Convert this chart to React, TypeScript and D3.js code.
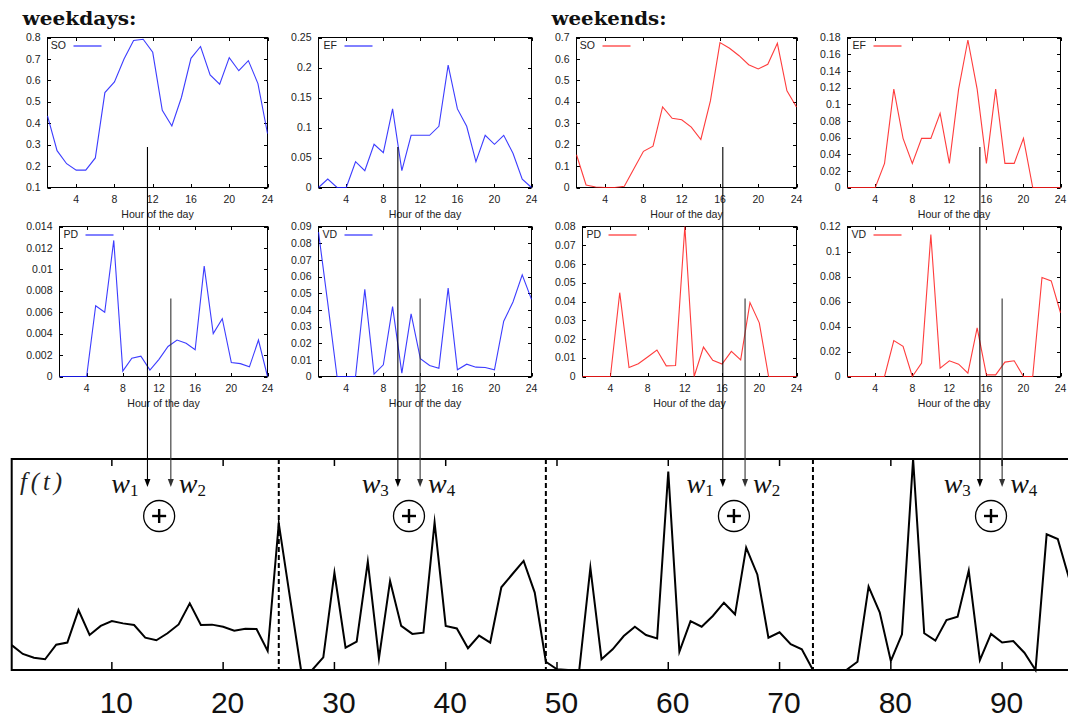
import React from 'react';
import * as d3 from 'd3';

// Hourly profiles (hour 1..24)
const hours = d3.range(1, 25);
const xTickHours = [4, 8, 12, 16, 20, 24];

const soWeekdays = [0.434, 0.272, 0.211, 0.181, 0.181, 0.238, 0.543, 0.593, 0.700, 0.786, 0.792, 0.731, 0.460, 0.387, 0.520, 0.703, 0.758, 0.625, 0.582, 0.706, 0.645, 0.692, 0.585, 0.352];
const efWeekdays = [0, 0.014, 0, 0, 0.043, 0.028, 0.072, 0.058, 0.131, 0.028, 0.087, 0.087, 0.087, 0.102, 0.204, 0.131, 0.102, 0.043, 0.087, 0.072, 0.087, 0.057, 0.014, 0];
const pdWeekdays = [0, 0, 0, 0, 0.0066, 0.0060, 0.0127, 0.0005, 0.0017, 0.0019, 0.0006, 0.0016, 0.0028, 0.0034, 0.0031, 0.0025, 0.0103, 0.0040, 0.0054, 0.0013, 0.0012, 0.0009, 0.0034, 0];
const vdWeekdays = [0.0866, 0.044, 0, 0, 0, 0.0523, 0.0014, 0.007, 0.0419, 0.002, 0.0376, 0.0107, 0.0066, 0.005, 0.053, 0.004, 0.0074, 0.0056, 0.0054, 0.004, 0.0332, 0.0447, 0.061, 0.0463];

const soWeekends = [0.153, 0.012, 0.002, 0, 0, 0.006, 0.088, 0.169, 0.193, 0.376, 0.323, 0.316, 0.282, 0.224, 0.404, 0.676, 0.650, 0.615, 0.573, 0.553, 0.575, 0.673, 0.451, 0.376];
const efWeekends = [0, 0, 0, 0, 0.029, 0.118, 0.059, 0.029, 0.059, 0.059, 0.089, 0.029, 0.118, 0.177, 0.118, 0.029, 0.118, 0.029, 0.029, 0.059, 0, 0, 0, 0];
const pdWeekends = [0, 0, 0, 0, 0.0447, 0.0048, 0.0068, 0.0104, 0.0141, 0.0057, 0.0059, 0.08, 0, 0.0157, 0.0086, 0.0066, 0.0134, 0.0089, 0.0394, 0.0286, 0, 0, 0, 0];
const vdWeekends = [0, 0, 0, 0, 0, 0.0287, 0.0242, 0, 0.0107, 0.1135, 0.0067, 0.0126, 0.0099, 0.0027, 0.0389, 0.0013, 0.0013, 0.0115, 0.0126, 0, 0, 0.0792, 0.0765, 0.051];

// Y tick values for each panel
const soWeekdayTicks = [0.1, 0.2, 0.3, 0.4, 0.5, 0.6, 0.7, 0.8];
const efWeekdayTicks = [0, 0.05, 0.1, 0.15, 0.2, 0.25];
const pdWeekdayTicks = [0, 0.002, 0.004, 0.006, 0.008, 0.01, 0.012, 0.014];
const vdWeekdayTicks = [0, 0.01, 0.02, 0.03, 0.04, 0.05, 0.06, 0.07, 0.08, 0.09];
const soWeekendTicks = [0, 0.1, 0.2, 0.3, 0.4, 0.5, 0.6, 0.7];
const efWeekendTicks = [0, 0.02, 0.04, 0.06, 0.08, 0.1, 0.12, 0.14, 0.16, 0.18];
const pdWeekendTicks = [0, 0.01, 0.02, 0.03, 0.04, 0.05, 0.06, 0.07, 0.08];
const vdWeekendTicks = [0, 0.02, 0.04, 0.06, 0.08, 0.1, 0.12];

// Combined weekly signal f(t), t = 1..96 (normalised)
const fWeekdaySoPd = [0.118, 0.076, 0.058, 0.051, 0.120, 0.130, 0.284, 0.166, 0.209, 0.232, 0.221, 0.213, 0.153, 0.141, 0.174, 0.216, 0.316, 0.213, 0.215, 0.205, 0.186, 0.196, 0.194, 0.090];
const fWeekdayEfVd = [0.695, 0.345, 0, 0, 0.060, 0.461, 0.106, 0.134, 0.513, 0.055, 0.422, 0.209, 0.171, 0.177, 0.700, 0.209, 0.197, 0.103, 0.163, 0.130, 0.392, 0.455, 0.517, 0.367];
const fWeekendSoPd = [0.039, 0.003, 0, 0, 0.485, 0.051, 0.098, 0.161, 0.205, 0.166, 0.150, 0.940, 0.087, 0.232, 0.205, 0.256, 0.319, 0.264, 0.580, 0.453, 0.153, 0.179, 0.122, 0.098];
const fWeekendEfVd = [0, 0, 0, 0, 0.039, 0.395, 0.273, 0.043, 0.169, 1.0, 0.174, 0.139, 0.237, 0.253, 0.471, 0.047, 0.171, 0.130, 0.137, 0.082, 0, 0.643, 0.621, 0.437];
const fSeries = [...fWeekdaySoPd, ...fWeekdayEfVd, ...fWeekendSoPd, ...fWeekendEfVd];
const tValues = d3.range(1, 97);
const tTicks = [10, 20, 30, 40, 50, 60, 70, 80, 90];
const segmentBreaks = [25, 49, 73];

// Weight arrows: pairs of arrows (in t units of the combined plot)
const weightPairs = [
  { a: '1', b: '2', ta: 13.2, tb: 15.3 },
  { a: '3', b: '4', ta: 35.7, tb: 37.7 },
  { a: '1', b: '2', ta: 64.9, tb: 66.9 },
  { a: '3', b: '4', ta: 88.0, tb: 90.0 },
];

const BLUE = '#1a1aff';
const RED = '#ff1a1a';
const SANS = '"Liberation Sans", Arial, sans-serif';
const SERIF = '"Liberation Serif", "Times New Roman", serif';

const topRow = { top: 37.5, bottom: 187.5 };
const bottomRow = { top: 226.5, bottom: 376.5 };

type PanelCfg = {
  name: string;
  data: number[];
  ticks: number[];
  color: string;
  left: number;
  right: number;
  top: number;
  bottom: number;
};

const panels: PanelCfg[] = [
  { name: 'SO', data: soWeekdays, ticks: soWeekdayTicks, color: BLUE, left: 47.5, right: 267.5, ...topRow },
  { name: 'EF', data: efWeekdays, ticks: efWeekdayTicks, color: BLUE, left: 318.5, right: 531.5, ...topRow },
  { name: 'SO', data: soWeekends, ticks: soWeekendTicks, color: RED, left: 576.5, right: 796.5, ...topRow },
  { name: 'EF', data: efWeekends, ticks: efWeekendTicks, color: RED, left: 847.5, right: 1060.5, ...topRow },
  { name: 'PD', data: pdWeekdays, ticks: pdWeekdayTicks, color: BLUE, left: 59.5, right: 267.5, ...bottomRow },
  { name: 'VD', data: vdWeekdays, ticks: vdWeekdayTicks, color: BLUE, left: 318.5, right: 531.5, ...bottomRow },
  { name: 'PD', data: pdWeekends, ticks: pdWeekendTicks, color: RED, left: 582.5, right: 796.5, ...bottomRow },
  { name: 'VD', data: vdWeekends, ticks: vdWeekendTicks, color: RED, left: 847.5, right: 1060.5, ...bottomRow },
];

function Panel({ cfg }: { cfg: PanelCfg }) {
  const { left, right, top, bottom, ticks } = cfg;
  const x = d3.scaleLinear().domain([1, 24]).range([left, right]);
  const y = d3.scaleLinear().domain([ticks[0], ticks[ticks.length - 1]]).range([bottom, top]);
  const line = d3
    .line<number>()
    .x((_, i) => x(hours[i]))
    .y((d) => y(d));
  const tl = 3.5;
  return (
    <g>
      <rect x={left} y={top} width={right - left} height={bottom - top} fill="none" stroke="#000" strokeWidth={1} />
      {ticks.map((t) => (
        <g key={'y' + t}>
          <line x1={left} x2={left + tl} y1={Math.round(y(t)) + 0.5} y2={Math.round(y(t)) + 0.5} stroke="#000" />
          <line x1={right} x2={right - tl} y1={Math.round(y(t)) + 0.5} y2={Math.round(y(t)) + 0.5} stroke="#000" />
          <text x={left - 7} y={y(t) + 3.7} textAnchor="end" fontSize={10.5} fontFamily={SANS} fill="#222">
            {String(t)}
          </text>
        </g>
      ))}
      {xTickHours.map((h) => (
        <g key={'x' + h}>
          <line x1={Math.round(x(h)) + 0.5} x2={Math.round(x(h)) + 0.5} y1={bottom} y2={bottom - tl} stroke="#000" />
          <line x1={Math.round(x(h)) + 0.5} x2={Math.round(x(h)) + 0.5} y1={top} y2={top + tl} stroke="#000" />
          <text x={x(h)} y={bottom + 15.5} textAnchor="middle" fontSize={10.5} fontFamily={SANS} fill="#222">
            {h}
          </text>
        </g>
      ))}
      <path d={line(cfg.data) || ''} fill="none" stroke={cfg.color} strokeWidth={1.1} strokeOpacity={0.85} />
      <text x={(left + right) / 2} y={bottom + 30} textAnchor="middle" fontSize={10.6} fontFamily={SANS} fill="#222">
        Hour of the day
      </text>
      <text x={left + 18.5} y={top + 11.5} textAnchor="end" fontSize={10.5} fontFamily={SANS} fill="#222">
        {cfg.name}
      </text>
      <line x1={left + 26} x2={left + 54} y1={top + 8.5} y2={top + 8.5} stroke={cfg.color} strokeWidth={1.1} />
    </g>
  );
}

export default function App() {
  const W = 1068;
  const H = 719;

  // Combined signal plot
  const fx = d3.scaleLinear().domain([1, 96]).range([11.7, 1068.9]);
  const fy = d3.scaleLinear().domain([0, 1]).range([670, 459]);
  const fLine = d3
    .line<number>()
    .x((_, i) => fx(tValues[i]))
    .y((d) => fy(d));

  const arrowTip = 487;
  const topStart = topRow.top + 0.73 * (topRow.bottom - topRow.top);
  const bottomStart = bottomRow.top + 0.48 * (bottomRow.bottom - bottomRow.top);

  const arrow = (xPos: number, y0: number, key: string, color: string) => (
    <g key={key}>
      <line x1={xPos} x2={xPos} y1={y0} y2={arrowTip - 6} stroke={color} strokeWidth={1.1} />
      <path d={`M${xPos - 3},${arrowTip - 8} L${xPos + 3},${arrowTip - 8} L${xPos},${arrowTip} Z`} fill={color} />
    </g>
  );

  return (
    <svg
      width={W}
      height={H}
      viewBox={`0 0 ${W} ${H}`}
      style={{ position: 'absolute', left: 0, top: 0, display: 'block', background: '#fff' }}
    >
      <rect x={0} y={0} width={W} height={H} fill="#fff" />

      <text x={22.5} y={25} fontFamily='"DejaVu Serif", serif' fontWeight="bold" fontSize={19} textLength={114} lengthAdjust="spacingAndGlyphs" fill="#111">
        weekdays:
      </text>
      <text x={551.5} y={25} fontFamily='"DejaVu Serif", serif' fontWeight="bold" fontSize={19} textLength={115} lengthAdjust="spacingAndGlyphs" fill="#111">
        weekends:
      </text>

      {panels.map((p, i) => (
        <Panel key={i} cfg={p} />
      ))}

      {/* combined weekly signal */}
      <path d={fLine(fSeries) || ''} fill="none" stroke="#000" strokeWidth={2} strokeLinejoin="miter" strokeMiterlimit={10} />
      {segmentBreaks.map((t) => (
        <line key={'b' + t} x1={fx(t)} x2={fx(t)} y1={459} y2={670} stroke="#000" strokeWidth={2} strokeDasharray="5,3" />
      ))}
      <path d={`M${W + 10},459 L${fx(1)},459 L${fx(1)},670 L${W + 10},670`} fill="none" stroke="#000" strokeWidth={2} />
      {tTicks.map((t) => (
        <g key={'t' + t}>
          <line x1={fx(t)} x2={fx(t)} y1={459} y2={466} stroke="#000" strokeWidth={1.5} />
          <line x1={fx(t)} x2={fx(t)} y1={670} y2={662} stroke="#000" strokeWidth={1.5} />
          <text x={fx(t) + 4.5} y={713} textAnchor="middle" fontSize={30} fontFamily={SANS} fill="#111">
            {t}
          </text>
        </g>
      ))}
      <text x={20} y={490} fontFamily={SERIF} fontStyle="italic" fontSize={25} textLength={42} lengthAdjust="spacing" fill="#222">
        f(t)
      </text>

      {weightPairs.map((p, i) => {
        const xa = fx(p.ta);
        const xb = fx(p.tb);
        const cx = (xa + xb) / 2;
        return (
          <g key={'w' + i}>
            {arrow(xa, topStart, 'a', '#000')}
            {arrow(xb, bottomStart, 'b', '#333')}
            <text x={xa - 9} y={493} textAnchor="end" fontFamily={SERIF} fill="#111">
              <tspan fontStyle="italic" fontSize={28}>w</tspan>
              <tspan fontSize={17} dy={3}>{p.a}</tspan>
            </text>
            <text x={xb + 8} y={493} textAnchor="start" fontFamily={SERIF} fill="#111">
              <tspan fontStyle="italic" fontSize={28}>w</tspan>
              <tspan fontSize={17} dy={3}>{p.b}</tspan>
            </text>
            <circle cx={cx} cy={516} r={15.5} fill="#fff" stroke="#000" strokeWidth={1.3} />
            <line x1={cx - 7} x2={cx + 7} y1={516} y2={516} stroke="#000" strokeWidth={2.4} />
            <line x1={cx} x2={cx} y1={509} y2={523} stroke="#000" strokeWidth={2.4} />
          </g>
        );
      })}
    </svg>
  );
}
